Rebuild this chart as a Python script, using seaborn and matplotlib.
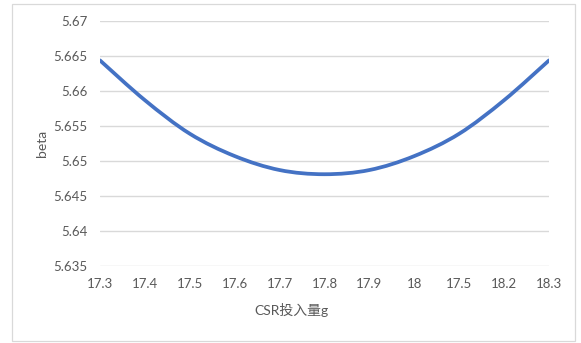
import matplotlib
matplotlib.use("Agg")
import matplotlib.pyplot as plt
from matplotlib.patches import Rectangle, PathPatch
from matplotlib.path import Path
from matplotlib.ticker import FuncFormatter
import numpy as np
import pandas as pd
import seaborn as sns

# CSR dosage categories (as labelled on the axis) and the resulting beta values
csr_labels = ["17.3", "17.4", "17.5", "17.6", "17.7", "17.8", "17.9", "18", "17.5", "18.2", "18.3"]
beta_values = [5.6644, 5.6587, 5.6539, 5.6507, 5.6487, 5.6481, 5.6487, 5.6507, 5.6539, 5.6587, 5.6644]
y_ticks = [5.635, 5.64, 5.645, 5.65, 5.655, 5.66, 5.665, 5.67]

sns.set_theme(style="white")
plt.rcParams["font.family"] = ["Lato", "Noto Sans CJK SC", "DejaVu Sans"]

text_color = "#595959"
grid_color = "#D9D9D9"
line_color = "#4472C4"

W, H = 581, 343
fig = plt.figure(figsize=(W / 100, H / 100), dpi=100)
fig.patch.set_facecolor("white")

# Light chart-area frame
fig.patches.append(Rectangle((12 / W, 2 / H), 563 / W, 337 / H, transform=fig.transFigure,
                             fill=False, edgecolor=grid_color, linewidth=0.9))

ax = fig.add_axes([100 / W, 77.3 / H, 449 / W, 244.4 / H])

df = pd.DataFrame({"pos": np.arange(len(csr_labels)), "beta": beta_values})
sns.lineplot(data=df, x="pos", y="beta", ax=ax, color=line_color, linewidth=2.7)


def smooth_path(xs, ys):
    """Catmull-Rom style cubic Bezier path through the given points."""
    pts = np.column_stack([xs, ys])
    n = len(pts)
    verts = [pts[0]]
    codes = [Path.MOVETO]
    for i in range(n - 1):
        p0 = pts[max(i - 1, 0)]
        p1 = pts[i]
        p2 = pts[i + 1]
        p3 = pts[min(i + 2, n - 1)]
        verts += [p1 + (p2 - p0) / 6, p2 - (p3 - p1) / 6, p2]
        codes += [Path.CURVE4] * 3
    return Path(verts, codes)


# Replace the polyline with a smoothed curve through the same points
line = ax.lines[0]
xd, yd = line.get_xdata(), line.get_ydata()
line.remove()
ax.add_patch(PathPatch(smooth_path(np.asarray(xd, float), np.asarray(yd, float)),
                       facecolor="none", edgecolor=line_color, linewidth=2.7,
                       capstyle="round", joinstyle="round", zorder=3))

ax.set_xlim(0, len(csr_labels) - 1)
ax.set_ylim(y_ticks[0], y_ticks[-1])
ax.set_xticks(df["pos"])
ax.set_xticklabels(csr_labels)
ax.set_yticks(y_ticks)
ax.yaxis.set_major_formatter(FuncFormatter(lambda v, _: f"{v:.3f}".rstrip("0").rstrip(".")))

ax.grid(axis="y", color=grid_color, linewidth=1.0)
ax.grid(axis="x", visible=False)
ax.set_axisbelow(True)
for s in ax.spines.values():
    s.set_visible(False)

ax.tick_params(axis="both", length=0, labelsize=9.5, colors=text_color)
ax.tick_params(axis="y", pad=9)
ax.tick_params(axis="x", pad=9)

ax.set_xlabel("CSR投入量g", fontsize=10, color=text_color)
ax.xaxis.set_label_coords((291.7 - 100) / 449, (H - 310 - 77.3) / 244.4)
ax.xaxis.label.set_va("center")
ax.set_ylabel("beta", fontsize=10, color=text_color)
ax.yaxis.set_label_coords((41.7 - 100) / 449, 0.5)
ax.yaxis.label.set_va("center")

fig.savefig("out.png", dpi=100, facecolor="white")
